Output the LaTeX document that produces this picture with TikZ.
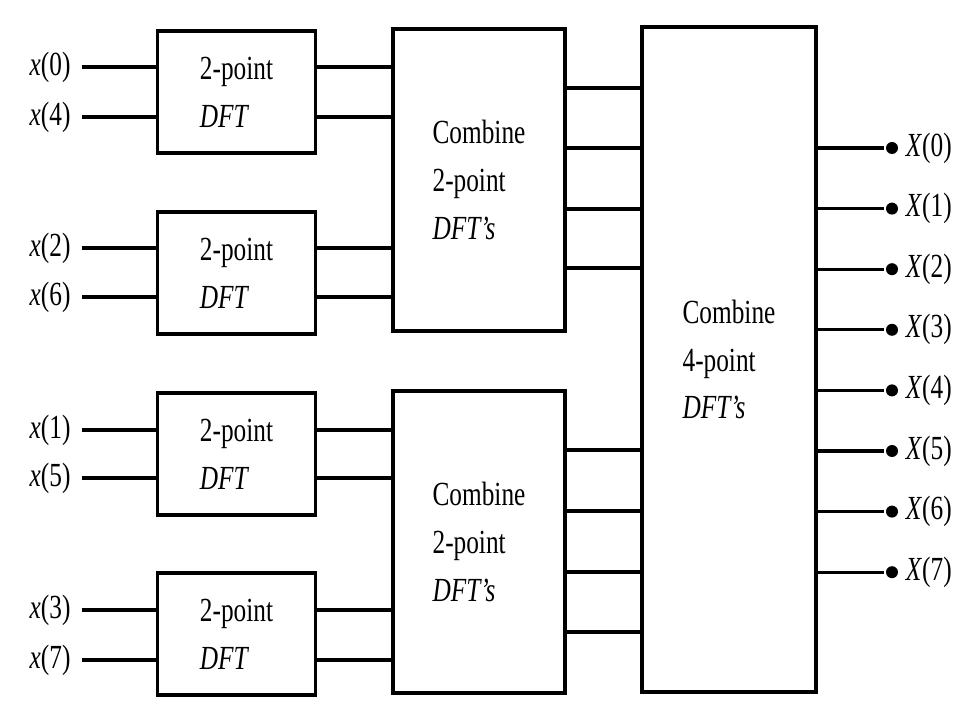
\documentclass[tikz,border=0pt]{standalone}
\usepackage{fontspec}
\setmainfont[FakeStretch=0.75]{Liberation Serif}
\begin{document}
\begin{tikzpicture}[x=0.025cm,y=-0.025cm,line width=2.2pt,
	blk/.style={draw,inner sep=0pt,align=left,font=\fontsize{24}{34}\selectfont},
	dftbox/.style={blk,minimum width=3.93cm,minimum height=3.05cm},
	combbox/.style={blk,minimum width=4.3cm,minimum height=7.55cm},
	bigbox/.style={blk,minimum width=4.35cm,minimum height=16.62cm},
	lbl/.style={font=\fontsize{24}{32}\selectfont,inner xsep=0.25cm,inner ysep=0pt},
	dot/.style={circle,fill,inner sep=0pt,minimum size=0.3cm}]
			\useasboundingbox (0,0) rectangle (969,708);
			% 2-point DFT stages
			\node[dftbox] (dA) at (236.5,92) {2-point\\\textit{DFT}};
			\node[dftbox] (dB) at (236.5,273) {2-point\\\textit{DFT}};
			\node[dftbox] (dC) at (236.5,454) {2-point\\\textit{DFT}};
			\node[dftbox] (dD) at (236.5,634) {2-point\\\textit{DFT}};
			% combine stages
			\node[combbox] (cA) at (479,180) {Combine\\2-point\\\textit{DFT's}};
			\node[combbox] (cB) at (479,542) {Combine\\2-point\\\textit{DFT's}};
			\node[bigbox] (big) at (729,359.5) {Combine\\4-point\\\textit{DFT's}};
			% inputs
			\foreach \n/\y/\b/\c in {0/67/dA/cA,4/117/dA/cA,2/248/dB/cA,6/297/dB/cA,1/430/dC/cB,5/478/dC/cB,3/610/dD/cB,7/660/dD/cB} {
				\node[lbl,anchor=east] (x\n) at (82,\y) {\textit{x}(\n)};
				\draw (x\n.east) -- (x\n.east -| \b.west);
				\draw (\b.east |- x\n) -- (\c.west |- x\n);
			}
			\foreach \y in {88,148,209,268} { \draw (cA.east |- 0,\y) -- (big.west |- 0,\y); }
			\foreach \y in {450,511,572,632} { \draw (cB.east |- 0,\y) -- (big.west |- 0,\y); }
			% outputs
			\foreach \k in {0,...,7} {
				\node[dot] (d\k) at (892,148+60.6*\k) {};
				\node[lbl,anchor=west,inner xsep=0.12cm] (X\k) at (d\k.east) {\textit{X}(\k)};
				\draw (big.east |- d\k) -- (d\k);
			}
		\end{tikzpicture}
\end{document}
